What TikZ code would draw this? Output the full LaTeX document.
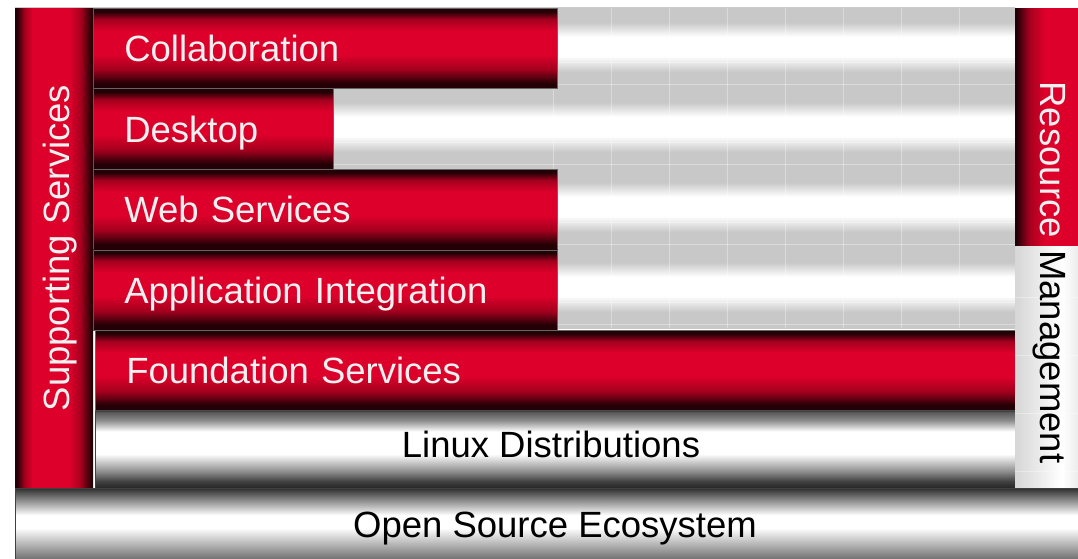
\documentclass[tikz,border=0pt]{standalone}
\usepackage{fontspec}
\setmainfont{Liberation Sans}
\usepackage{xcolor}
\usepackage{tikz}
\usetikzlibrary{positioning}

\definecolor{rsred}{RGB}{220,0,42}
\definecolor{rsdeep}{RGB}{165,0,30}
\definecolor{rsdark}{RGB}{34,0,5}
\definecolor{rsgray}{RGB}{200,200,200}
\definecolor{mgleft}{RGB}{214,214,214}
\definecolor{mgright}{RGB}{236,236,236}
\definecolor{lxtop}{RGB}{80,80,80}
\definecolor{lxmid}{RGB}{140,140,140}
\definecolor{lxlow}{RGB}{66,66,66}
\definecolor{lxbot}{RGB}{26,26,26}
\definecolor{ostop}{RGB}{48,48,48}
\definecolor{osbot}{RGB}{112,112,112}

\pgfdeclareverticalshading{redrow}{100bp}{color(0bp)=(rsdark); color(25bp)=(rsdark); color(28bp)=(rsdark); color(37bp)=(rsdeep); color(46bp)=(rsred); color(61bp)=(rsred); color(68bp)=(rsdeep); color(73bp)=(rsdark); color(100bp)=(rsdark)}
\pgfdeclarehorizontalshading{redcol}{100bp}{color(0bp)=(rsdark); color(26bp)=(rsdark); color(31bp)=(rsdeep); color(36bp)=(rsred); color(60bp)=(rsred); color(67bp)=(rsdeep); color(74bp)=(rsdark); color(100bp)=(rsdark)}
\pgfdeclarehorizontalshading{redside}{100bp}{color(0bp)=(rsdark); color(26bp)=(rsdark); color(36bp)=(rsdeep); color(48bp)=(rsred); color(100bp)=(rsred)}
\pgfdeclareverticalshading{lightrow}{100bp}{color(0bp)=(rsgray); color(35bp)=(rsgray); color(45bp)=(white); color(57bp)=(white); color(66bp)=(rsgray); color(100bp)=(rsgray)}
\pgfdeclareverticalshading{linuxrow}{100bp}{color(0bp)=(lxbot); color(25bp)=(lxbot); color(31bp)=(lxlow); color(37bp)=(lxmid); color(48bp)=(white); color(62bp)=(white); color(69bp)=(lxmid); color(75bp)=(lxtop); color(100bp)=(lxtop)}
\pgfdeclareverticalshading{osrow}{100bp}{color(0bp)=(osbot); color(25bp)=(osbot); color(47bp)=(white); color(56bp)=(white); color(75bp)=(ostop); color(100bp)=(ostop)}
\pgfdeclarehorizontalshading{mgmtcol}{100bp}{color(0bp)=(mgleft); color(25bp)=(mgleft); color(62bp)=(white); color(75bp)=(mgright); color(100bp)=(mgright)}

\begin{document}
\begin{tikzpicture}[x=1pt, y=-1pt,
    txt/.style={font=\fontsize{36.5}{40}\selectfont, text height=27pt, text depth=0pt, inner sep=0pt},
    redrow/.style={txt, shade, shading=redrow, draw=black!60, line width=0.5pt, anchor=north west, minimum height=80pt, inner xsep=31pt, text=white!94!black, align=left},
    grayrow/.style={txt, shade, draw=black!75, line width=0.5pt, anchor=north west, text=black},
    redcolumn/.style={shade, shading=redcol, anchor=north west, inner sep=0pt},
    gridline/.style={white, opacity=0.35, line width=0.5pt}]
    \useasboundingbox (0,0) rectangle (1078,559);

    \foreach \y in {8,88,168,248}
        \shade[shading=lightrow] (300,\y) rectangle (1015,\y+80);
    \foreach \x in {553,611,...,1000}
        \draw[gridline] (\x,8) -- (\x,328);
    \foreach \y in {8,88,168,248}
        \draw[gridline] (300,\y+54) -- (1015,\y+54) (300,\y+76) -- (1015,\y+76);
    \draw[gray!40, line width=0.8pt] (15,7.5) -- (1015,7.5);

    \node[redrow, text width=402pt] (collab) at (93,8) {Collaboration};
    \node[redrow, text width=178pt, below=0pt of collab.south west, anchor=north west] (desktop) {Desktop};
    \node[redrow, text width=402pt, below=0pt of desktop.south west, anchor=north west] (websvc) {Web Services};
    \node[redrow, text width=402pt, below=0pt of websvc.south west, anchor=north west] (appint) {Application Integration};
    \node[redrow, text width=858pt, below=0pt of appint.south west, xshift=2pt, anchor=north west] (found) {Foundation Services};
    \node[grayrow, shading=linuxrow, minimum width=920pt, minimum height=80pt, below=0pt of found.south west, anchor=north west] (linux) {};
    \node[txt] (linuxtxt) at (551,444) {Linux Distributions};

    \node[redcolumn, minimum width=78pt, minimum height=480pt] (support) at (15,8) {};
    \node[txt, rotate=90, text=white!94!black] (supporttxt) at (56,248) {Supporting Services};

    \node[shade, shading=redside, anchor=north west, inner sep=0pt, minimum width=63pt, minimum height=238pt] (resource) at (1015,8) {};
    \node[shade, shading=mgmtcol, inner sep=0pt, minimum width=63pt, minimum height=241pt, below=0pt of resource.south west, anchor=north west] (mgmt) {};
    \foreach \y in {297,355,413,471}
        \draw[gridline] (1015,\y) -- (1078,\y);
    \node[txt, rotate=-90, anchor=east, text=white!94!black] (restxt) at (1054,238) {Resource};
    \node[txt, rotate=-90, anchor=west] (mgmttxt) at (1054,250) {Management};

    \node[grayrow, shading=osrow, minimum width=1063pt, minimum height=71pt] (ecosys) at (15,488) {};
    \node[txt] (ecotxt) at (555,524) {Open Source Ecosystem};
\end{tikzpicture}
\end{document}
